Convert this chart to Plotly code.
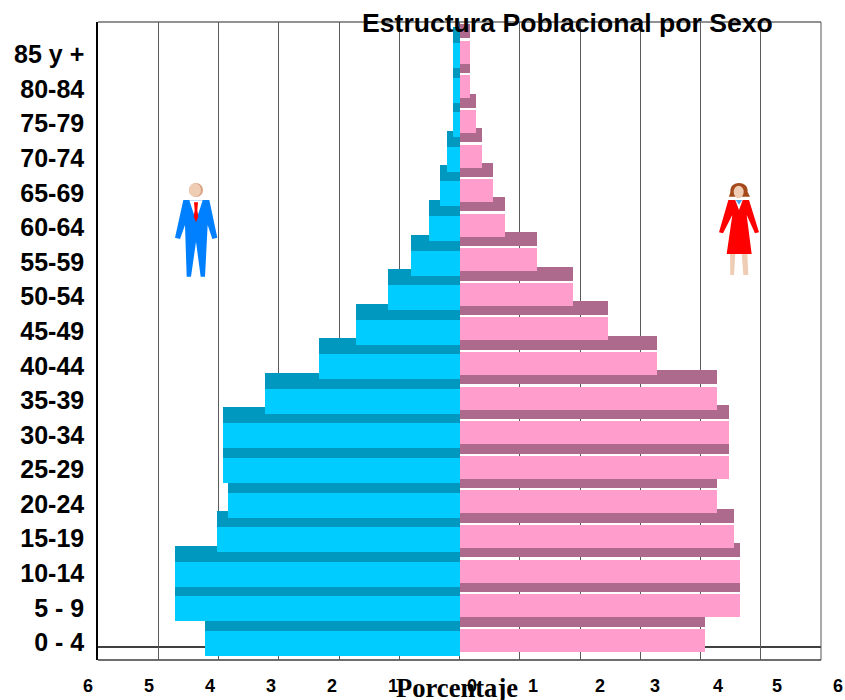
import plotly.graph_objects as go

# ---- chart data ----
age_groups = ["0 - 4", "5 - 9", "10-14", "15-19", "20-24", "25-29", "30-34", "35-39", "40-44",
              "45-49", "50-54", "55-59", "60-64", "65-69", "70-74", "75-79", "80-84", "85 y +"]
male = [4.23, 4.73, 4.73, 4.02, 3.84, 3.93, 3.93, 3.23, 2.34,
        1.71, 1.19, 0.80, 0.50, 0.32, 0.20, 0.10, 0.10, 0.10]
female = [4.07, 4.66, 4.66, 4.56, 4.27, 4.47, 4.47, 4.27, 3.27,
          2.47, 1.88, 1.28, 0.76, 0.56, 0.37, 0.28, 0.17, 0.17]
x_labels = [6, 5, 4, 3, 2, 1, 0, 1, 2, 3, 4, 5, 6]
x_label_pos = [-6, -5, -4, -3, -2, -1, 0, 1, 2, 3, 4, 5, 6]
x_label_shift = [-10, -9, -9, -8, -7, -6, 12, 13, 20, 15, 17, 16, 17]

# ---- layout geometry (pixels) ----
W, H = 845, 700
L, R, T, B = 98, 821, 22, 660
PERIOD = 34.59
Y0 = 643.5
def px(v): return v / PERIOD
def X(p): return (p - L) / (R - L)
def Y(p): return (B - p) / (B - T)
def path(points, ox, oy):
    return "M" + " L".join(f"{X(ox + a / 3):.5f},{Y(oy + b / 3):.5f}" for a, b in points) + " Z"

pos = list(range(len(age_groups)))
ML, MD, FL, FD = "#00CCFF", "#0098BE", "#FF9DCC", "#AE6A8D"

fig = go.Figure()
def bars(vals, sign, colour, shift, thick):
    fig.add_trace(go.Bar(orientation="h", x=[sign * v for v in vals], y=[p + px(shift) for p in pos],
                         width=px(thick), marker=dict(color=colour, line=dict(width=0)),
                         showlegend=False, hoverinfo="skip"))
bars(male, -1, MD, 20.5, 16)
bars(female, 1, FD, 24, 14)
bars(male, -1, ML, 0, 25)
bars(female, 1, FL, 3.2, 23)

shapes = []
def line(x0, y0, x1, y1, color, width):
    shapes.append(dict(type="line", xref="paper", yref="paper", x0=X(x0), y0=Y(y0), x1=X(x1), y1=Y(y1),
                       line=dict(color=color, width=width), layer="below"))
line(L, 647, R, 647, "#000000", 1.3)
line(L, T, R, T, "#6E6E6E", 1.5)
line(L, B, R, B, "#6E6E6E", 2)
line(R, T, R, B, "#555555", 1)

def poly(points, ox, oy, color):
    shapes.append(dict(type="path", xref="paper", yref="paper", path=path(points, ox, oy),
                       fillcolor=color, line=dict(width=0), layer="above"))
def oval(cx, cy, rx, ry, ox, oy, color):
    shapes.append(dict(type="circle", xref="paper", yref="paper",
                       x0=X(ox + (cx - rx) / 3), x1=X(ox + (cx + rx) / 3),
                       y0=Y(oy + (cy + ry) / 3), y1=Y(oy + (cy - ry) / 3),
                       fillcolor=color, line=dict(width=0), layer="above"))

# man pictogram
mx, my = 160, 170
oval(108, 60, 21, 21, mx, my, "#D9A17F")
oval(105, 60, 18, 20, mx, my, "#EFCDB5")
poly([(70, 90), (148, 90), (172, 203), (157, 207), (143, 165), (135, 320), (122, 320), (108, 215),
      (93, 320), (80, 320), (75, 165), (60, 207), (45, 203)], mx, my, "#0080FF")
poly([(88, 91), (128, 91), (108, 152)], mx, my, "#FFFFFF")
poly([(102, 97), (114, 97), (112, 120), (115, 140), (108, 157), (101, 140), (104, 120)], mx, my, "#FF0000")

# woman pictogram
wx, wy = 705, 170
oval(102, 60, 26, 21, wx, wy, "#A5491B")
poly([(78, 60), (125, 60), (135, 80), (115, 80), (90, 80), (72, 80)], wx, wy, "#A5491B")
poly([(75, 250), (91, 250), (87, 315), (76, 315)], wx, wy, "#EFCDB5")
poly([(110, 250), (127, 250), (130, 315), (115, 315)], wx, wy, "#EFCDB5")
poly([(70, 90), (132, 90), (162, 187), (150, 190), (125, 135), (140, 252), (65, 252), (82, 135),
      (54, 190), (42, 187)], wx, wy, "#FF0000")
poly([(90, 88), (114, 88), (102, 120)], wx, wy, "#FFFFFF")
poly([(92, 90), (112, 90), (102, 104)], wx, wy, "#4AA8E8")
oval(101, 66, 15, 19, wx, wy, "#EFCDB5")

annotations = [dict(text=str(t), x=p, xref="x", y=Y(686), yref="paper", xshift=s, showarrow=False,
                    xanchor="center", yanchor="middle",
                    font=dict(family="Liberation Sans", size=18, color="#000000", weight="bold"))
               for t, p, s in zip(x_labels, x_label_pos, x_label_shift)]
annotations.append(dict(text="Porcentaje", x=X(456.5), xref="paper", y=Y(688), yref="paper", showarrow=False,
                        xanchor="center", yanchor="middle",
                        font=dict(family="Liberation Serif", size=26.6, color="#000000", weight="bold")))
annotations.append(dict(text="Estructura Poblacional por Sexo", x=X(567.5), xref="paper", y=Y(23), yref="paper",
                        showarrow=False, xanchor="center", yanchor="middle",
                        font=dict(family="Liberation Sans", size=26.6, color="#000000", weight="bold")))

fig.update_layout(
    width=W, height=H, autosize=False, barmode="overlay", bargap=0,
    margin=dict(l=L, r=W - R, t=T, b=H - B, pad=0, autoexpand=False),
    paper_bgcolor="#FFFFFF", plot_bgcolor="#FFFFFF", showlegend=False,
    shapes=shapes, annotations=annotations,
    xaxis=dict(range=[-6, 6], dtick=1, tick0=0, showgrid=True, gridcolor="#5A5A5A", gridwidth=1,
               zeroline=False, showticklabels=False, ticks="", showline=False, fixedrange=True,
               automargin=False),
    yaxis=dict(range=[-(B - Y0) / PERIOD, (Y0 - T) / PERIOD], tickvals=[p + px(1) for p in pos],
               ticktext=age_groups, automargin=False,
               showgrid=False, zeroline=False, showline=True, linecolor="#000000", linewidth=1.5,
               ticks="", ticklabelstandoff=7, fixedrange=True,
               tickfont=dict(family="Liberation Sans", size=25, color="#000000", weight="bold")),
)
fig.write_html("out.html", config={"displayModeBar": False},
               post_script="document.body.style.margin='0';document.body.style.overflow='hidden';")
